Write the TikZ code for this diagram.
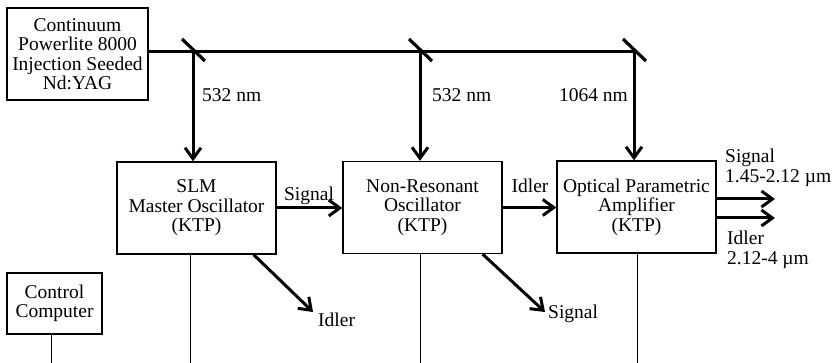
\documentclass[tikz,border=0pt]{standalone}
\usepackage{fontspec}
\setmainfont{Liberation Serif}
\usetikzlibrary{arrows.meta}

\begin{document}
\begin{tikzpicture}[x=1pt, y=-1pt,
    font=\fontsize{19.5}{19.5}\selectfont,
    unitbox/.style={draw, line width=1.4pt, inner sep=0pt, align=center, minimum width=159pt, minimum height=92pt},
    beam/.style={line width=3pt},
    ray/.style={beam, -{Straight Barb[length=11pt,width=16pt]}},
    wire/.style={line width=1pt},
    mirror/.style={line width=3.2pt},
    lbl/.style={inner sep=0pt},
]
    \useasboundingbox (0,0) rectangle (833,363);
    \coordinate (floor) at (0,363);

    \node[unitbox, minimum width=141pt] (laser) at (77.5,54) {Continuum\\Powerlite 8000\\Injection Seeded\\Nd:YAG};
    \node[unitbox] (slm) at (196.5,208) {SLM\\Master Oscillator\\(KTP)};
    \node[unitbox] (nro) at (422.5,207.5) {Non-Resonant\\Oscillator\\(KTP)};
    \node[unitbox] (opa) at (636.5,207) {Optical Parametric\\Amplifier\\(KTP)};
    \node[unitbox, minimum width=95pt, minimum height=61pt] (ctrl) at (54.5,303.5) {Control\\Computer};

    % pump beam and turning mirrors
    \foreach \m/\x in {m1/193, m2/420, m3/634} {
        \coordinate (\m) at (\x,52);
        \draw[mirror] ([shift={(-11,-13)}]\m) -- ([shift={(12,9)}]\m);
    }
    \draw[beam] (laser.east |- m1) -- (m3);
    \foreach \m/\n in {m1/slm, m2/nro, m3/opa}
        \draw[ray] (\m) -- (\m |- \n.north);

    \node[lbl, anchor=base west] (w1) at (202,102) {532 nm};
    \node[lbl, anchor=base west] (w2) at (432,102) {532 nm};
    \node[lbl, anchor=base east] (w3) at (628,102) {1064 nm};

    % seeding between stages
    \draw[ray] (slm.east) -- (slm.east -| nro.west);
    \draw[ray] (nro.east) -- (nro.east -| opa.west);
    \node[lbl, anchor=base] (sg1) at (309,201) {Signal};
    \node[lbl, anchor=base] (id1) at (530,193) {Idler};

    % rejected beams
    \coordinate (e1) at (313,312);
    \coordinate (e2) at (545,312);
    \draw[ray] ([xshift=-23pt]slm.south east) -- (e1);
    \draw[ray] ([xshift=-20pt]nro.south east) -- (e2);
    \node[lbl, anchor=base west] (id2) at (318,327) {Idler};
    \node[lbl, anchor=base west] (sg2) at (548,319) {Signal};

    % outputs
    \coordinate (o1) at (775,199);
    \coordinate (o2) at (775,218);
    \draw[ray] (opa.east |- o1) -- (o1);
    \draw[ray] (opa.east |- o2) -- (o2);
    \node[lbl, anchor=north west, align=left] (sg3) at (725,149) {Signal\\1.45-2.12 µm};
    \node[lbl, anchor=north west, align=left] (id3) at (727,231) {Idler\\2.12-4 µm};

    % control wiring
    \foreach \n/\dx in {slm/-6.5, nro/-2.5, opa/0.5, ctrl/-3.5} {
        \path (\n.south) ++(\dx,0) coordinate (t\n);
        \draw[wire] (t\n) -- (t\n |- floor);
    }
\end{tikzpicture}
\end{document}
